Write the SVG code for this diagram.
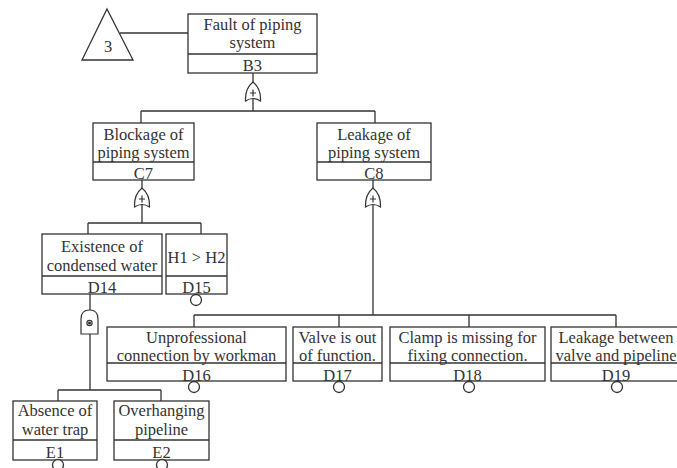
<svg xmlns="http://www.w3.org/2000/svg" width="677" height="468" viewBox="0 0 677 468">
<style>
.b{fill:#fff;stroke:#333;stroke-width:1.3}
.l{fill:none;stroke:#333;stroke-width:1.3}
.g{fill:#fff;stroke:#333;stroke-width:1.2}
.t{font-family:"Liberation Serif","Times New Roman",serif;font-size:16.5px;fill:#333;text-anchor:middle}
</style>
<defs>
<g id="or">
<path d="M-7.5,19 C-8,9 -5,4 0,0 C5,4 8,9 7.5,19 Q0,14 -7.5,19 Z"/>
<path d="M-3,11 H3 M0,7.5 V14.5"/>
</g>
</defs>
<rect width="677" height="468" fill="#fff"/>
<g id="connectors" class="l">
<path d="M120,33 H188"/>
<path d="M253,73 V82 M253,98 V111 M141,111 H375 M141,111 V123 M375,111 V123"/>
<path d="M142,180 V188 M142,204 V223 M88,223 H201 M88,223 V234 M201,223 V234"/>
<path d="M373,180 V188 M373,204 V315 M194,315 H616 M194,315 V327 M339,315 V327 M469,315 V327 M616,315 V327"/>
<path d="M90,294 V310 M90,334 V390 M58,390 H161 M58,390 V401 M161,390 V401"/>
</g>
<g id="transfer-3">
<path class="b" d="M107,9 L133,60 L82,60 Z"/>
<text class="t" x="108" y="52">3</text>
</g>
<g id="gate-B3" class="g"><use href="#or" x="253" y="82"/></g>
<g id="gate-C7" class="g"><use href="#or" x="142" y="188"/></g>
<g id="gate-C8" class="g"><use href="#or" x="373" y="188"/></g>
<g id="gate-D14" class="g">
<path d="M81,334 V319 Q81,310 89.5,310 Q98,310 98,319 V334 Z"/>
<circle cx="89.5" cy="323" r="2.6"/>
<circle cx="89.5" cy="323" r="0.9" fill="#333"/>
</g>
<g id="B3">
<rect class="b" x="188" y="14" width="129" height="59"/>
<path class="l" d="M188,54 H317"/>
<text class="t" x="252.5" y="30">Fault of piping</text>
<text class="t" x="252.5" y="48">system</text>
<text class="t" x="252.5" y="71">B3</text>
</g>
<g id="C7">
<rect class="b" x="93" y="123" width="101" height="57"/>
<path class="l" d="M93,162 H194"/>
<text class="t" x="143.5" y="140">Blockage of</text>
<text class="t" x="143.5" y="158">piping system</text>
<text class="t" x="143.5" y="179">C7</text>
</g>
<g id="C8">
<rect class="b" x="317" y="123" width="114" height="57"/>
<path class="l" d="M317,162 H431"/>
<text class="t" x="374" y="140">Leakage of</text>
<text class="t" x="374" y="158">piping system</text>
<text class="t" x="374" y="179">C8</text>
</g>
<g id="D14">
<rect class="b" x="42" y="234" width="120" height="60"/>
<path class="l" d="M42,276 H162"/>
<text class="t" x="102" y="252">Existence of</text>
<text class="t" x="102" y="271">condensed water</text>
<text class="t" x="102" y="293">D14</text>
</g>
<g id="D15">
<rect class="b" x="166" y="234" width="61" height="60"/>
<path class="l" d="M166,276 H227"/>
<text class="t" x="196.5" y="263">H1 &gt; H2</text>
<text class="t" x="196.5" y="293">D15</text>
<circle class="b" cx="196" cy="300" r="5.5"/>
</g>
<g id="D16">
<rect class="b" x="107" y="327" width="179" height="54"/>
<path class="l" d="M107,363 H286"/>
<text class="t" x="196.5" y="343">Unprofessional</text>
<text class="t" x="196.5" y="361">connection by workman</text>
<text class="t" x="196.5" y="381">D16</text>
<circle class="b" cx="194" cy="387" r="5.5"/>
</g>
<g id="D17">
<rect class="b" x="293" y="327" width="89" height="54"/>
<path class="l" d="M293,363 H382"/>
<text class="t" x="337.5" y="343">Valve is out</text>
<text class="t" x="337.5" y="361">of function.</text>
<text class="t" x="337.5" y="381">D17</text>
<circle class="b" cx="339" cy="387" r="5.5"/>
</g>
<g id="D18">
<rect class="b" x="390" y="327" width="155" height="54"/>
<path class="l" d="M390,363 H545"/>
<text class="t" x="467.5" y="343">Clamp is missing for</text>
<text class="t" x="467.5" y="361">fixing connection.</text>
<text class="t" x="467.5" y="381">D18</text>
<circle class="b" cx="469" cy="387" r="5.5"/>
</g>
<g id="D19">
<rect class="b" x="551" y="327" width="130" height="54"/>
<path class="l" d="M551,363 H681"/>
<text class="t" x="616" y="343">Leakage between</text>
<text class="t" x="616" y="361">valve and pipeline</text>
<text class="t" x="616" y="381">D19</text>
<circle class="b" cx="617" cy="387" r="5.5"/>
</g>
<g id="E1">
<rect class="b" x="13" y="401" width="84" height="59"/>
<path class="l" d="M13,440 H97"/>
<text class="t" x="55" y="416">Absence of</text>
<text class="t" x="55" y="435">water trap</text>
<text class="t" x="55" y="458">E1</text>
<circle class="b" cx="58" cy="465" r="5.5"/>
</g>
<g id="E2">
<rect class="b" x="114" y="401" width="95" height="59"/>
<path class="l" d="M114,440 H209"/>
<text class="t" x="161.5" y="416">Overhanging</text>
<text class="t" x="161.5" y="435">pipeline</text>
<text class="t" x="161.5" y="458">E2</text>
<circle class="b" cx="162" cy="465" r="5.5"/>
</g>
</svg>
